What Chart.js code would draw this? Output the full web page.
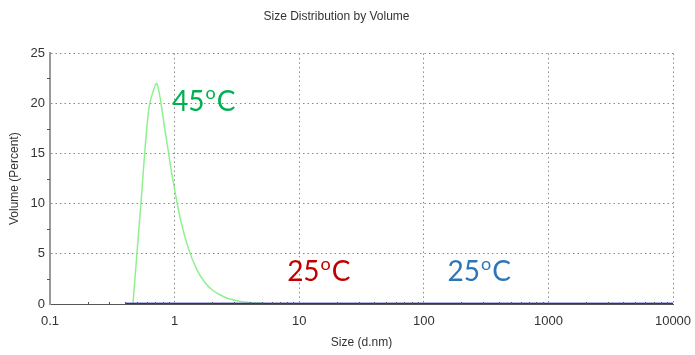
<!DOCTYPE html>
<html>
<head>
<meta charset="utf-8">
<script src="https://cdn.jsdelivr.net/npm/chart.js@4.4.0/dist/chart.umd.min.js"></script>
<style>
  html, body { margin: 0; padding: 0; background: #fff; }
  #wrap { width: 695px; height: 355px; }
</style>
</head>
<body>
<div id="wrap"><canvas id="sizeChart"></canvas></div>
<script>
// données
const sizes45 = [0.4632, 0.5365, 0.6213, 0.7195, 0.8332, 0.9649, 1.117, 1.294, 1.499, 1.736,
                 2.010, 2.328, 2.696, 3.122, 3.615, 4.187, 4.849, 5.615, 6.503, 7.531];
const volume45 = [0, 10, 19.5, 22, 17.5, 12.5, 8.4, 5.5, 3.5, 2.2,
                  1.4, 0.9, 0.55, 0.35, 0.2, 0.12, 0.07, 0.03, 0.01, 0];
const sizes25 = [0.4, 1, 10, 100, 1000, 10000];
const volume25red = [0, 0, 0, 0, 0, 0];
const volume25blue = [0, 0, 0, 0, 0, 0];
const xTicks = [0.1, 1, 10, 100, 1000, 10000];
const yTicks = [0, 5, 10, 15, 20, 25];
const annotTexts = ['45', '25', '25'];
const annotX = [0.955, 8.0, 155];
const annotY = [20.2, 3.2, 3.2];
const annotColors = ['#00b050', '#c00000', '#2e75b6'];

const toPoints = (xs, ys) => xs.map((x, i) => ({ x: x, y: ys[i] }));

// petites graduations (mineures) sur les axes
const minorTicks = {
    id: 'minorTicks',
    afterDatasetsDraw(chart) {
        const ctx = chart.ctx;
        const xs = chart.scales.x, ys = chart.scales.y;
        ctx.save();
        ctx.strokeStyle = '#555';
        ctx.lineWidth = 1;
        for (let d = 0; d < xTicks.length - 1; d++) {
            for (let m = 2; m <= 9; m++) {
                const px = Math.round(xs.getPixelForValue(xTicks[d] * m)) + 0.5;
                ctx.beginPath();
                ctx.moveTo(px, ys.bottom - 2);
                ctx.lineTo(px, ys.bottom + 1);
                ctx.stroke();
            }
        }
        for (let v = 2.5; v < 25; v += 5) {
            const py = Math.round(ys.getPixelForValue(v)) + 0.5;
            ctx.beginPath();
            ctx.moveTo(xs.left - 3, py);
            ctx.lineTo(xs.left, py);
            ctx.stroke();
        }
        ctx.restore();
    }
};

// étiquettes de température (45oC, 25oC)
const tempLabels = {
    id: 'tempLabels',
    afterDatasetsDraw(chart) {
        const ctx = chart.ctx;
        const xs = chart.scales.x, ys = chart.scales.y;
        ctx.save();
        ctx.textBaseline = 'middle';
        ctx.textAlign = 'left';
        annotTexts.forEach((t, i) => {
            let px = xs.getPixelForValue(annotX[i]);
            const py = ys.getPixelForValue(annotY[i]);
            ctx.fillStyle = annotColors[i];
            ctx.font = '28px Lato';
            ctx.fillText(t, px, py);
            px += ctx.measureText(t).width + 1;
            ctx.font = '18px Lato';
            ctx.fillText('o', px, py - 8);
            px += ctx.measureText('o').width + 1;
            ctx.font = '28px Lato';
            ctx.fillText('C', px, py);
        });
        ctx.restore();
    }
};

const ctx = document.getElementById('sizeChart').getContext('2d');
const sizeChart = new Chart(ctx, {
    type: 'line',
    data: {
        datasets: [
            {
                label: '25oC rouge',
                data: toPoints(sizes25, volume25red),
                borderColor: '#c00000',
                borderWidth: 2,
                pointRadius: 0,
                fill: false
            },
            {
                label: '25oC bleu',
                data: toPoints(sizes25, volume25blue),
                borderColor: 'rgb(112, 112, 218)',
                borderWidth: 3,
                pointRadius: 0,
                fill: false
            },
            {
                label: '45oC',
                data: toPoints(sizes45, volume45),
                borderColor: 'rgba(130, 240, 130, 0.9)',
                borderWidth: 1.5,
                pointRadius: 0,
                tension: 0.25,
                fill: false
            }
        ]
    },
    options: {
        responsive: true,
        maintainAspectRatio: false,
        animation: false,
        layout: { padding: { top: 0, right: 22, bottom: 0, left: 0 } },
        plugins: {
            legend: { display: false },
            tooltip: { enabled: false },
            title: {
                display: true,
                text: 'Size Distribution by Volume',
                color: '#333',
                font: { family: 'Liberation Sans', size: 12, weight: 'normal' },
                padding: { top: 9, bottom: 30 }
            }
        },
        scales: {
            x: {
                type: 'logarithmic',
                min: 0.1,
                max: 10000,
                afterBuildTicks: (scale) => {
                    scale.ticks = xTicks.map(v => ({ value: v }));
                },
                afterFit: (scale) => {
                    scale.height = 51;
                    scale.paddingLeft = 0;
                    scale.paddingRight = 0;
                },
                ticks: {
                    autoSkip: false,
                    maxRotation: 0,
                    padding: 10,
                    color: '#333',
                    font: { family: 'Liberation Sans', size: 13 },
                    callback: (v) => String(v)
                },
                grid: {
                    drawTicks: false,
                    color: (c) => c.index === 0 ? 'rgba(0,0,0,0)' : '#8a8a8a',
                    lineWidth: 1
                },
                border: { display: true, color: '#555', width: 1, dash: [1.5, 3] },
                title: {
                    display: true,
                    text: 'Size (d.nm)',
                    color: '#333',
                    font: { family: 'Liberation Sans', size: 12 },
                    padding: { top: 4, bottom: 5 }
                }
            },
            y: {
                min: 0,
                max: 25,
                afterBuildTicks: (scale) => {
                    scale.ticks = yTicks.map(v => ({ value: v }));
                },
                afterFit: (scale) => { scale.width = 50; },
                ticks: {
                    padding: 5,
                    color: '#333',
                    font: { family: 'Liberation Sans', size: 13 }
                },
                grid: {
                    drawTicks: false,
                    color: (c) => c.index === 0 ? 'rgba(0,0,0,0)' : '#8a8a8a',
                    lineWidth: 1
                },
                border: { display: true, color: '#999', width: 2, dash: [1.5, 3] },
                title: {
                    display: true,
                    text: 'Volume (Percent)',
                    color: '#333',
                    font: { family: 'Liberation Sans', size: 12 },
                    padding: { top: 7, bottom: 0 }
                }
            }
        }
    },
    plugins: [minorTicks, tempLabels]
});
</script>
</body>
</html>
